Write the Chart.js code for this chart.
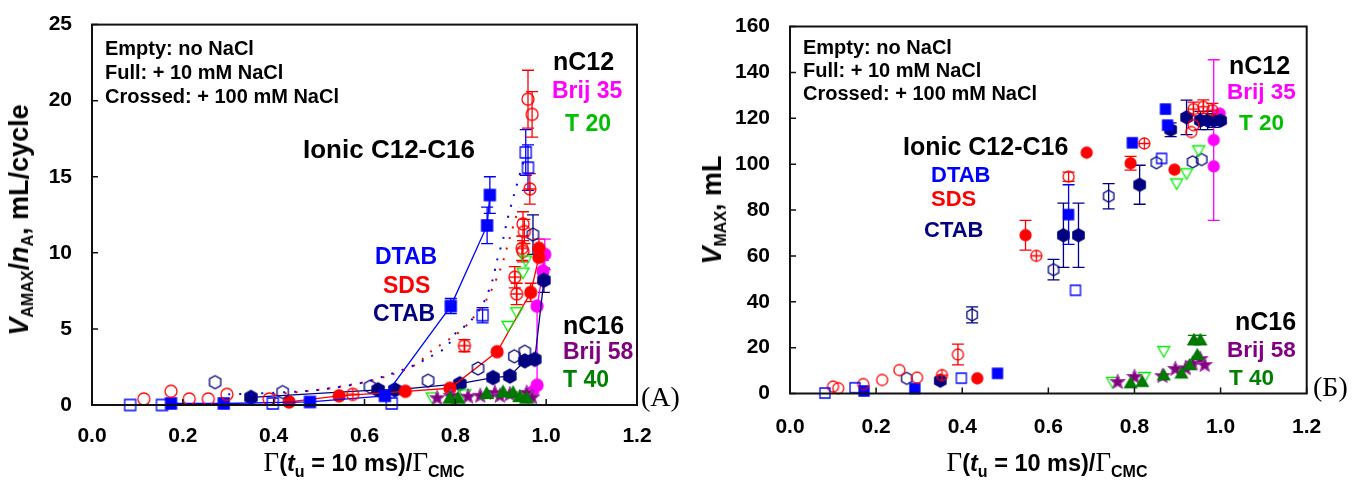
<!DOCTYPE html>
<html lang="en">
<head>
<meta charset="utf-8">
<title>Foam volume versus surface coverage</title>
<script src="https://cdn.jsdelivr.net/npm/chart.js@4.4.1/dist/chart.umd.min.js"></script>
<style>
  html, body { margin: 0; padding: 0; background: #fff; }
  body { position: relative; width: 1352px; height: 490px; overflow: hidden;
         font-family: "Liberation Sans", Arial, Helvetica, sans-serif; color: #000; }
  canvas { position: absolute; top: 0; }
  #chartA { left: 0; }
  #chartB { left: 700px; }
  .t { position: absolute; font-weight: bold; white-space: nowrap; line-height: 1; }
  .note { font-size: 20px; }
  .panel { font-family: "Liberation Serif", "Times New Roman", serif; font-weight: normal; font-size: 28px; }
  .ytitle { position: absolute; transform: translate(-50%, -50%) rotate(-90deg); font-size: 27px;
            font-weight: bold; white-space: nowrap; line-height: 1; }
  .xtitle { position: absolute; transform: translate(-50%, -50%); font-size: 23.5px; font-weight: bold;
            white-space: nowrap; line-height: 1; }
  .xtitle .g { font-family: "Liberation Serif", "Times New Roman", serif; font-weight: normal; font-size: 27px; }
  sub { font-size: 16px; vertical-align: -5px; line-height: 1; }
  .xtitle sub { font-size: 16px; vertical-align: -6px; }
</style>
</head>
<body>
<canvas id="chartA" width="700" height="490"></canvas>
<canvas id="chartB" width="652" height="490"></canvas>

<!-- panel A annotations -->
<div class="t note" style="left:105px;top:38px">Empty: no NaCl</div>
<div class="t note" style="left:105px;top:62px">Full: + 10 mM NaCl</div>
<div class="t note" style="left:105px;top:86px">Crossed: + 100 mM NaCl</div>
<div class="t" style="left:303px;top:136px;font-size:26px">Ionic C12-C16</div>
<div class="t" style="left:375px;top:245px;font-size:23px;color:#0000ff">DTAB</div>
<div class="t" style="left:383px;top:274px;font-size:23px;color:#ff0000">SDS</div>
<div class="t" style="left:373px;top:302px;font-size:23px;color:#000080">CTAB</div>
<div class="t" style="left:553px;top:49px;font-size:25px">nC12</div>
<div class="t" style="left:552px;top:79px;font-size:23px;color:#ff00ff">Brij 35</div>
<div class="t" style="left:565px;top:112px;font-size:23px;color:#00c000">T 20</div>
<div class="t" style="left:563px;top:313px;font-size:25px">nC16</div>
<div class="t" style="left:563px;top:340px;font-size:23px;color:#800080">Brij 58</div>
<div class="t" style="left:563px;top:368px;font-size:23px;color:#008000">T 40</div>
<div class="t panel" style="left:641px;top:383px">(A)</div>
<div class="ytitle" style="left:21px;top:220px"><i>V</i><sub>AMAX</sub>/<i>n</i><sub>A</sub>, mL/cycle</div>
<div class="xtitle" style="left:364px;top:464px"><span class="g">Γ</span>(<i>t</i><sub>u</sub> = 10 ms)/<span class="g">Γ</span><sub>CMC</sub></div>

<!-- panel Б annotations -->
<div class="t note" style="left:803px;top:37px">Empty: no NaCl</div>
<div class="t note" style="left:803px;top:60px">Full: + 10 mM NaCl</div>
<div class="t note" style="left:803px;top:83px">Crossed: + 100 mM NaCl</div>
<div class="t" style="left:903px;top:134px;font-size:25px">Ionic C12-C16</div>
<div class="t" style="left:931px;top:164px;font-size:22px;color:#0000ff">DTAB</div>
<div class="t" style="left:931px;top:188px;font-size:22px;color:#ff0000">SDS</div>
<div class="t" style="left:924px;top:219px;font-size:22px;color:#000080">CTAB</div>
<div class="t" style="left:1229px;top:53px;font-size:25px">nC12</div>
<div class="t" style="left:1227px;top:81px;font-size:22.5px;color:#ff00ff">Brij 35</div>
<div class="t" style="left:1239px;top:112px;font-size:22.5px;color:#00c000">T 20</div>
<div class="t" style="left:1235px;top:309px;font-size:25px">nC16</div>
<div class="t" style="left:1227px;top:339px;font-size:22.5px;color:#800080">Brij 58</div>
<div class="t" style="left:1229px;top:367px;font-size:22.5px;color:#008000">T 40</div>
<div class="t panel" style="left:1313px;top:373px">(Б)</div>
<div class="ytitle" style="left:714px;top:210px"><i>V</i><sub>MAX</sub>, mL</div>
<div class="xtitle" style="left:1047px;top:464px"><span class="g">Γ</span>(<i>t</i><sub>u</sub> = 10 ms)/<span class="g">Γ</span><sub>CMC</sub></div>

<script>
// ---------- tick values ----------
const xTicks = [0.0, 0.2, 0.4, 0.6, 0.8, 1.0, 1.2];
const yTicksA = [0, 5, 10, 15, 20, 25];
const yTicksB = [0, 20, 40, 60, 80, 100, 120, 140, 160];

// ---------- Panel A: V_AMAX / n_A (mL/cycle) ----------
// DTAB, no salt (open squares)
const A_dtab0_x = [0.084, 0.154, 0.398, 0.66, 0.86, 0.955, 0.96];
const A_dtab0_y = [0.0, 0.0, 0.1, 0.1, 5.9, 16.6, 15.6];
const A_dtab0_e = [0, 0, 0, 0, 0.5, 1.5, 1.5];
// DTAB, 10 mM NaCl (filled squares)
const A_dtab10_x = [0.174, 0.29, 0.48, 0.645, 0.79, 0.87, 0.876];
const A_dtab10_y = [0.1, 0.1, 0.2, 0.6, 6.5, 11.8, 13.8];
const A_dtab10_e = [0, 0, 0, 0, 0.5, 1.2, 1.2];
// SDS, no salt (open circles)
const A_sds0_x = [0.114, 0.174, 0.214, 0.256, 0.297, 0.39, 0.949, 0.952, 0.949, 0.96, 0.969];
const A_sds0_y = [0.4, 0.9, 0.4, 0.4, 0.7, 0.4, 11.9, 11.4, 10.1, 20.1, 19.1];
const A_sds0_e = [0, 0, 0, 0, 0, 0, 0.8, 0.8, 0.7, 1.9, 1.5];
// SDS, 10 mM NaCl (filled circles)
const A_sds10_x = [0.434, 0.544, 0.69, 0.788, 0.892, 0.966, 0.984, 0.984];
const A_sds10_y = [0.2, 0.6, 0.9, 1.1, 3.5, 7.4, 9.7, 10.3];
const A_sds10_e = [0, 0, 0, 0, 0, 0.6, 0, 0.6];
// SDS, 100 mM NaCl (crossed circles)
const A_sds100_x = [0.574, 0.82, 0.931, 0.935, 0.947, 0.964];
const A_sds100_y = [0.7, 3.9, 8.4, 7.3, 10.3, 14.2];
const A_sds100_e = [0, 0.4, 0.7, 0.7, 0.8, 1.0];
// CTAB, no salt (open hexagons)
const A_ctab0_x = [0.271, 0.42, 0.612, 0.74, 0.85, 0.93, 0.953, 0.971];
const A_ctab0_y = [1.5, 0.85, 1.2, 1.6, 2.4, 3.2, 3.5, 11.2];
const A_ctab0_e = [0, 0, 0, 0, 0, 0, 0, 1.3];
// CTAB, 10 mM NaCl (filled hexagons)
const A_ctab10_x = [0.35, 0.63, 0.667, 0.81, 0.883, 0.92, 0.953, 0.975, 0.995];
const A_ctab10_y = [0.5, 1.0, 1.0, 1.4, 1.8, 1.9, 2.9, 3.0, 8.2];
const A_ctab10_e = [0, 0, 0, 0, 0, 0, 0, 0, 0.8];
// Brij 35
const A_brij35_x = [0.97, 0.98, 0.98, 0.993, 0.997];
const A_brij35_y = [0.85, 1.3, 6.5, 8.8, 9.9];
const A_brij35_e = [0, 0, 0, 0.7, 1.0];
// Tween 20
const A_t20_x = [0.749, 0.821, 0.916, 0.935, 0.949, 0.955];
const A_t20_y = [0.5, 0.7, 5.2, 6.1, 8.7, 9.5];
// Brij 58
const A_brij58_x = [0.76, 0.79, 0.828, 0.855, 0.887, 0.898, 0.92, 0.957, 0.969];
const A_brij58_y = [0.45, 0.6, 0.55, 0.6, 0.8, 0.6, 0.7, 0.8, 0.5];
// Tween 40
const A_t40_x = [0.788, 0.806, 0.869, 0.905, 0.927, 0.942, 0.957];
const A_t40_y = [0.45, 0.45, 0.75, 0.85, 0.8, 0.55, 0.45];
// guide curves (dotted)
const A_dtabFit_x = [0.30, 0.40, 0.50, 0.60, 0.70, 0.74, 0.78, 0.80, 0.83, 0.86, 0.883, 0.89, 0.907, 0.913, 0.93, 0.95];
const A_dtabFit_y = [0.7, 0.8, 1.0, 1.5, 2.5, 3.1, 3.8, 4.7, 5.4, 6.6, 8.3, 9.3, 11.1, 12.0, 13.9, 16.0];
const A_sdsFit_x = [0.40, 0.50, 0.60, 0.66, 0.71, 0.75, 0.80, 0.83, 0.87, 0.90, 0.92, 0.94];
const A_sdsFit_y = [0.7, 1.0, 1.5, 2.0, 2.6, 3.6, 4.6, 5.4, 7.0, 9.0, 11.0, 13.0];

// ---------- Panel Б: V_MAX (mL) ----------
const B_dtab0_x = [0.081, 0.151, 0.398, 0.663, 0.863];
const B_dtab0_y = [0.2, 2.5, 6.7, 45, 102.5];
const B_dtab10_x = [0.172, 0.29, 0.482, 0.647, 0.795, 0.872, 0.877];
const B_dtab10_y = [1.1, 2.2, 8.8, 78, 109.3, 124, 117];
const B_dtab10_e = [0, 0, 0, 13, 0, 0, 0];
const B_sds0_x = [0.1, 0.112, 0.17, 0.214, 0.254, 0.295, 0.39, 0.647, 0.932, 0.937];
const B_sds0_y = [3, 2.3, 4.1, 5.9, 10.2, 6.9, 17, 94.5, 114, 117];
const B_sds0_e = [0, 0, 0, 0, 0, 0, 4.5, 2, 0, 0];
const B_sds10_x = [0.435, 0.547, 0.689, 0.791, 0.893];
const B_sds10_y = [6.6, 69, 105, 100.4, 97.6];
const B_sds10_e = [0, 6.5, 0, 3, 0];
const B_sds100_x = [0.353, 0.572, 0.823, 0.937, 0.96, 0.981];
const B_sds100_y = [8, 60, 109, 124, 125, 123.5];
const B_sds100_e = [0, 0, 0, 3, 3, 3];
const B_ctab0_x = [0.271, 0.423, 0.612, 0.74, 0.851, 0.935, 0.956];
const B_ctab0_y = [6.6, 34.3, 54, 86, 100.6, 101, 102];
const B_ctab0_e = [0, 3.5, 4.5, 5.5, 0, 0, 0];
const B_ctab10_x = [0.349, 0.635, 0.67, 0.812, 0.884, 0.921, 0.953, 0.97, 0.984, 1.0];
const B_ctab10_y = [5.6, 69, 69, 91, 115, 120.4, 119, 119, 119, 119];
const B_ctab10_e = [0, 14, 14, 8.5, 3, 7.5, 4, 4, 3, 0];
const B_brij35_x = [0.984, 0.984, 0.998];
const B_brij35_y = [110.5, 99, 122];
const B_brij35_e = [35, 0, 0];
const B_t20_x = [0.749, 0.823, 0.868, 0.898, 0.921, 0.949];
const B_t20_y = [5, 7.2, 18.5, 91.6, 96, 106];
const B_brij58_x = [0.761, 0.8, 0.865, 0.895, 0.919, 0.935, 0.953, 0.963];
const B_brij58_y = [5, 7.2, 7.6, 10.7, 11, 13, 15, 12.4];
const B_t40_x = [0.791, 0.818, 0.868, 0.909, 0.928, 0.946, 0.938, 0.953];
const B_t40_y = [4.5, 5.1, 8, 8.8, 12.4, 16.8, 23.3, 23.3];
const B_t40_e = [0, 0, 0, 0, 0, 0, 2, 2];

// ---------- colours ----------
const BLUE = '#0000ff', RED = '#ff0000', NAVY = '#000080', MAGENTA = '#ff00ff',
      LIME = '#00ee00', DKGREEN = '#007a00', PURPLE = '#800080';

// ---------- marker glyphs drawn onto small canvases ----------
function marker(shape, color, filled, size, lw) {
  const pad = 3, s = Math.ceil(size + pad * 2);
  const c = document.createElement('canvas');
  c.width = s; c.height = s;
  const g = c.getContext('2d');
  const cx = s / 2, cy = s / 2, r = size / 2;
  g.lineWidth = lw || 1.3;
  g.strokeStyle = color;
  g.fillStyle = color;
  g.beginPath();
  if (shape === 'circle' || shape === 'xcircle') {
    g.arc(cx, cy, r, 0, Math.PI * 2);
  } else if (shape === 'square') {
    g.rect(cx - r, cy - r, 2 * r, 2 * r);
  } else if (shape === 'hex') {
    for (let k = 0; k < 6; k++) {
      const a = (-90 + 60 * k) * Math.PI / 180;
      const px = cx + r * Math.cos(a), py = cy + r * Math.sin(a);
      k ? g.lineTo(px, py) : g.moveTo(px, py);
    }
    g.closePath();
  } else if (shape === 'tri') {
    g.moveTo(cx, cy - r); g.lineTo(cx + r, cy + r * 0.75); g.lineTo(cx - r, cy + r * 0.75); g.closePath();
  } else if (shape === 'tridown') {
    g.moveTo(cx, cy + r); g.lineTo(cx + r, cy - r * 0.75); g.lineTo(cx - r, cy - r * 0.75); g.closePath();
  } else if (shape === 'star') {
    for (let k = 0; k < 10; k++) {
      const a = (-90 + 36 * k) * Math.PI / 180;
      const rr = k % 2 ? r * 0.45 : r;
      const px = cx + rr * Math.cos(a), py = cy + rr * Math.sin(a);
      k ? g.lineTo(px, py) : g.moveTo(px, py);
    }
    g.closePath();
  }
  if (filled) g.fill();
  g.stroke();
  if (shape === 'xcircle') {
    g.beginPath();
    g.moveTo(cx - r, cy); g.lineTo(cx + r, cy);
    g.moveTo(cx, cy - r); g.lineTo(cx, cy + r);
    g.stroke();
  }
  if (shape === 'star') {
    g.strokeStyle = '#b040b0'; g.lineWidth = 1; g.stroke();
  }
  return c;
}

function pts(xs, ys) { return xs.map((v, i) => ({ x: v, y: ys[i] })); }

function series(xs, ys, glyph, color, opts) {
  return Object.assign({
    data: pts(xs, ys),
    pointStyle: glyph, pointRadius: 6, pointHoverRadius: 6,
    showLine: false, borderColor: color, backgroundColor: color,
    borderWidth: 1.3, clip: false, errColor: color
  }, opts || {});
}

function guide(xs, ys, color) {
  return {
    data: pts(xs, ys), showLine: true, pointRadius: 0, borderColor: color,
    borderWidth: 2, borderDash: [2, 9], clip: false, tension: 0.3
  };
}

// error bars from each dataset's `errors` list
const errorBars = {
  id: 'errorBars',
  beforeDatasetsDraw(chart) {
    const { ctx, scales: { x, y } } = chart;
    chart.data.datasets.forEach(d => {
      if (!d.errors) return;
      ctx.save();
      ctx.strokeStyle = d.errColor; ctx.lineWidth = 1.3;
      d.data.forEach((p, i) => {
        const e = d.errors[i];
        if (!e) return;
        const px = x.getPixelForValue(p.x);
        const y1 = y.getPixelForValue(p.y - e), y2 = y.getPixelForValue(p.y + e);
        ctx.beginPath();
        ctx.moveTo(px, y1); ctx.lineTo(px, y2);
        ctx.moveTo(px - 6, y1); ctx.lineTo(px + 6, y1);
        ctx.moveTo(px - 6, y2); ctx.lineTo(px + 6, y2);
        ctx.stroke();
      });
      ctx.restore();
    });
  }
};

// closed frame with inward tick marks
const frame = {
  id: 'frame',
  afterDraw(chart) {
    const { ctx, chartArea: a, scales: { x, y } } = chart;
    ctx.save();
    ctx.strokeStyle = '#111'; ctx.lineWidth = 2;
    ctx.strokeRect(a.left, a.top, a.right - a.left, a.bottom - a.top);
    ctx.lineWidth = 1.5;
    ctx.beginPath();
    x.ticks.forEach(t => {
      const px = x.getPixelForValue(t.value);
      ctx.moveTo(px, a.bottom); ctx.lineTo(px, a.bottom - 6);
    });
    y.ticks.forEach(t => {
      const py = y.getPixelForValue(t.value);
      ctx.moveTo(a.left, py); ctx.lineTo(a.left + 6, py);
    });
    ctx.stroke();
    ctx.restore();
  }
};

const tickFont = { family: '"Liberation Sans", Arial, sans-serif', size: 21, weight: 'bold' };

function makeChart(id, datasets, yTicks, yWidth, pad, xPad) {
  return new Chart(document.getElementById(id), {
    type: 'scatter',
    data: { datasets },
    options: {
      responsive: false, animation: false, devicePixelRatio: 1,
      layout: { padding: pad },
      plugins: { legend: { display: false }, tooltip: { enabled: false } },
      scales: {
        x: {
          type: 'linear', min: xTicks[0], max: xTicks[xTicks.length - 1],
          afterBuildTicks: s => { s.ticks = xTicks.map(v => ({ value: v })); },
          ticks: { callback: v => v.toFixed(1), font: tickFont, color: '#000', padding: xPad, maxRotation: 0 },
          grid: { display: false }, border: { display: false },
          afterFit: s => { s.height = 50; }
        },
        y: {
          type: 'linear', min: yTicks[0], max: yTicks[yTicks.length - 1],
          afterBuildTicks: s => { s.ticks = yTicks.map(v => ({ value: v })); },
          ticks: { font: tickFont, color: '#000', padding: 12 },
          grid: { display: false }, border: { display: false },
          afterFit: s => { s.width = yWidth; }
        }
      }
    },
    plugins: [errorBars, frame]
  });
}

const sz = 12;
makeChart('chartA', [
  guide(A_dtabFit_x, A_dtabFit_y, BLUE),
  guide(A_sdsFit_x, A_sdsFit_y, RED),
  series(A_t40_x, A_t40_y, marker('tri', DKGREEN, true, sz + 1), DKGREEN),
  series(A_brij58_x, A_brij58_y, marker('star', PURPLE, true, sz + 2), PURPLE),
  series(A_t20_x, A_t20_y, marker('tridown', LIME, false, sz), LIME),
  series(A_dtab0_x, A_dtab0_y, marker('square', BLUE, false, sz - 1), BLUE, { errors: A_dtab0_e }),
  series(A_sds0_x, A_sds0_y, marker('circle', RED, false, sz), RED, { errors: A_sds0_e }),
  series(A_sds100_x, A_sds100_y, marker('xcircle', RED, false, sz), RED, { errors: A_sds100_e }),
  series(A_ctab0_x, A_ctab0_y, marker('hex', NAVY, false, sz + 1), NAVY, { errors: A_ctab0_e }),
  series(A_dtab10_x, A_dtab10_y, marker('square', BLUE, true, sz - 1), BLUE, { errors: A_dtab10_e, showLine: true }),
  series(A_sds10_x, A_sds10_y, marker('circle', RED, true, sz), RED, { errors: A_sds10_e, showLine: true }),
  series(A_ctab10_x, A_ctab10_y, marker('hex', NAVY, true, sz + 2), NAVY, { errors: A_ctab10_e, showLine: true }),
  series(A_brij35_x, A_brij35_y, marker('circle', MAGENTA, true, sz), MAGENTA, { errors: A_brij35_e, showLine: true })
], yTicksA, 92, { left: 0, right: 63, top: 22.5, bottom: 35 }, 11);

const sb = 11;
makeChart('chartB', [
  series(B_t40_x, B_t40_y, marker('tri', DKGREEN, true, sb + 1), DKGREEN, { errors: B_t40_e }),
  series(B_brij58_x, B_brij58_y, marker('star', PURPLE, true, sb + 3), PURPLE),
  series(B_t20_x, B_t20_y, marker('tridown', LIME, false, sb + 1), LIME),
  series(B_dtab0_x, B_dtab0_y, marker('square', BLUE, false, sb - 1), BLUE),
  series(B_sds0_x, B_sds0_y, marker('circle', RED, false, sb), RED, { errors: B_sds0_e }),
  series(B_sds100_x, B_sds100_y, marker('xcircle', RED, false, sb), RED, { errors: B_sds100_e }),
  series(B_ctab0_x, B_ctab0_y, marker('hex', NAVY, false, sb + 1), NAVY, { errors: B_ctab0_e }),
  series(B_dtab10_x, B_dtab10_y, marker('square', BLUE, true, sb - 1), BLUE, { errors: B_dtab10_e }),
  series(B_sds10_x, B_sds10_y, marker('circle', RED, true, sb), RED, { errors: B_sds10_e }),
  series(B_ctab10_x, B_ctab10_y, marker('hex', NAVY, true, sb + 2), NAVY, { errors: B_ctab10_e }),
  series(B_brij35_x, B_brij35_y, marker('circle', MAGENTA, true, sb), MAGENTA, { errors: B_brij35_e })
], yTicksB, 90, { left: 0, right: 45.3, top: 26.5, bottom: 46.5 }, 13);
</script>
</body>
</html>
